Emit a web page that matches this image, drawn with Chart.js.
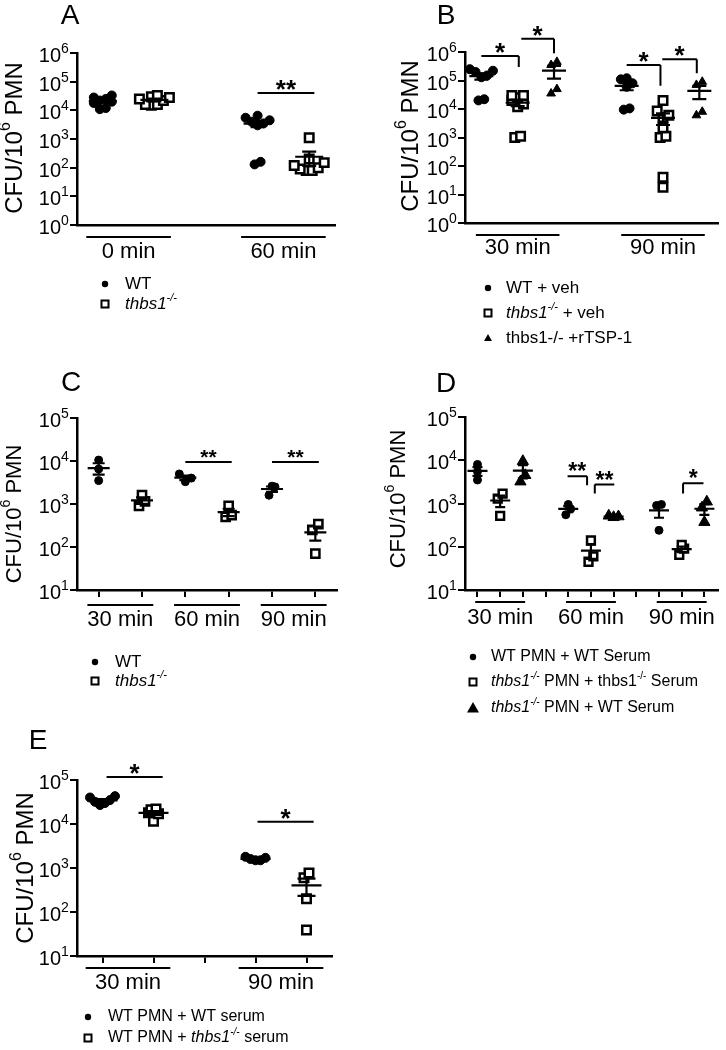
<!DOCTYPE html>
<html>
<head>
<meta charset="utf-8">
<script src="https://cdn.jsdelivr.net/npm/chart.js@4.4.0/dist/chart.umd.min.js"></script>
<style>
  body { margin: 0; background: #fff; width: 726px; height: 1050px; position: relative; overflow: hidden; }
  canvas { position: absolute; }
</style>
</head>
<body>
<canvas id="chartA"></canvas>
<canvas id="chartB"></canvas>
<canvas id="chartC"></canvas>
<canvas id="chartD"></canvas>
<canvas id="chartE"></canvas>
<script>
// ---------- datos (CFU / 10^6 PMN) ----------
// Panel A
const aGroups = ['0 min', '60 min'];
const aWT = [[22000, 18000, 25000, 12000, 11000, 33000, 20000, 28000], [6500, 5500, 4500, 4000, 3500, 3000, 130, 160]];
const aKO = [[33000, 30000, 28000, 25000, 16000, 15000, 16000, 22000], [1100, 200, 150, 100, 80, 80, 90, 120]];
const aSig = [[4.0, 5.1, 40000, '**']];
const aYTicks = [1, 10, 100, 1000, 10000, 100000, 1000000];

// Panel B
const bGroups = ['30 min', '90 min'];
const bWT = [[250000, 200000, 220000, 150000, 130000, 20000, 22000], [120000, 110000, 80000, 60000, 9500, 10500]];
const bKO = [[30000, 30000, 25000, 20000, 15000, 12000, 1000, 1100], [20000, 8500, 6000, 5000, 2200, 1100, 1000, 40, 18]];
const bTSP = [[450000, 350000, 50000, 35000], [90000, 70000, 8000, 6000]];
// [desde, hasta, y, texto, y final del tramo vertical, lado del tramo]
const bSig = [
    [1.0, 2.03, 720000, '*', 300000, 'right'],
    [2.1, 3.0, 2900000, '*', 910000, 'right'],
    [5.0, 5.93, 350000, '*', 66000, 'right'],
    [5.98, 6.93, 560000, '*', 180000, 'right']
];
const bYTicks = [1, 10, 100, 1000, 10000, 100000, 1000000];

// Panel C
const cGroups = ['30 min', '60 min', '90 min'];
const cWT = [[10500, 6500, 3500], [5000, 4000, 3300], [2600, 2500, 1600]];
const cKO = [[1600, 1150, 900], [900, 550, 500], [340, 250, 70]];
const cSig = [[3.0, 4.07, 9500, '**'], [5.0, 6.08, 9500, '**']];
const cYTicks = [10, 100, 1000, 10000, 100000];
const cXTicks = [1, 2, 3, 4, 5, 6];

// Panel D
const dGroups = ['30 min', '60 min', '90 min'];
const dWW = [[8000, 5500, 3500], [950, 750, 550], [950, 900, 240]];
const dKK = [[1700, 1300, 520], [140, 60, 45], [110, 90, 65]];
const dKW = [[9500, 4500, 3200], [520, 500, 480], [1100, 800, 370]];
const dSig = [
    [4.97, 5.83, 4270, '**', 2630, 'right'],
    [6.17, 7.03, 2750, '**', 1700, 'left'],
    [10.06, 10.96, 2950, '*', 1700, 'left']
];
const dYTicks = [10, 100, 1000, 10000, 100000];
const dXTicks = [1, 2, 3, 4, 5, 6, 7, 8, 9, 10, 11];

// Panel E
const eGroups = ['30 min', '90 min'];
const eWT = [[43000, 40000, 35000, 30000, 27000, 32000], [1800, 1700, 1600, 1500, 1500]];
const eKO = [[22000, 21000, 18000, 17000, 11500], [770, 600, 200, 39]];
const eSig = [[1.08, 2.18, 117000, '*'], [4.04, 5.14, 11200, '*']];
const eYTicks = [10, 100, 1000, 10000, 100000];
const eXTicks = [1, 2, 3, 4, 5];

// Leyendas: [texto, estilo] con 'i' = cursiva, 's' = superíndice
const legA = [[['WT']], [['thbs1', 'i'], ['-/-', 'is']]];
const legB = [[['WT + veh']], [['thbs1', 'i'], ['-/-', 'is'], [' + veh']], [['thbs1-/- +rTSP-1']]];
const legC = [[['WT']], [['thbs1', 'i'], ['-/-', 'is']]];
const legD = [
    [['WT PMN + WT Serum']],
    [['thbs1', 'i'], ['-/-', 'is'], [' PMN + thbs1'], ['-/-', 's'], [' Serum']],
    [['thbs1', 'i'], ['-/-', 'is'], [' PMN + WT Serum']]
];
const legE = [[['WT PMN + WT serum']], [['WT PMN + '], ['thbs1', 'i'], ['-/-', 'is'], [' serum']]];

const FONT = '"Liberation Sans", Arial, Helvetica, sans-serif';

// ---------- configuración de cada panel ----------
const panels = [
    {
        id: 'chartA', box: [0, 0, 363, 330], area: [77, 53, 335, 225],
        xMin: 0.5, xMax: 5.5, gap: 1, groups: aGroups, yMin: 1, yMax: 1e6, yTicks: aYTicks, xTicks: null,
        series: [{ values: aWT, marker: 'circle', r: 4.5 }, { values: aKO, marker: 'rect', r: 6 }],
        thr: 0.3, jitter: 6, meanHalf: 14, capHalf: 7, sig: aSig, starSize: 26,
        groupLineY: 237, groupLabelY: 252, groupHalf: 0.82,
        letter: ['A', 70, 16], title: [15, 138, 24],
        legend: { x: 105, tx: 125, rows: [284, 304], size: 17, labels: legA, family: FONT }
    },
    {
        id: 'chartB', box: [363, 0, 363, 345], area: [465, 52, 726, 223],
        xMin: 0.55, xMax: 7.5, gap: 1, groups: bGroups, yMin: 1, yMax: 1e6, yTicks: bYTicks, xTicks: null,
        series: [{ values: bWT, marker: 'circle', r: 4.5 }, { values: bKO, marker: 'rect', r: 6 }, { values: bTSP, marker: 'triangle', r: 5 }],
        thr: 0.3, jitter: 6, meanHalf: 12, capHalf: 7, sig: bSig, starSize: 26,
        groupLineY: 235, groupLabelY: 248, groupHalf: 1.15,
        letter: ['B', 446, 16], title: [411, 136, 24],
        legend: { x: 488, tx: 506, rows: [288, 313, 338], size: 17, labels: legB, family: FONT }
    },
    {
        id: 'chartC', box: [0, 330, 363, 370], area: [77, 418, 337, 590],
        xMin: 0.5, xMax: 6.5, gap: 0, groups: cGroups, yMin: 10, yMax: 1e5, yTicks: cYTicks, xTicks: cXTicks,
        series: [{ values: cWT, marker: 'circle', r: 4 }, { values: cKO, marker: 'rect', r: 5.8 }],
        thr: 0.2, jitter: 6, meanHalf: 11, capHalf: 6, sig: cSig, starSize: 21,
        groupLineY: 605, groupLabelY: 620, groupHalf: 0.76,
        letter: ['C', 71, 383], title: [15, 514, 22],
        legend: { x: 95, tx: 115, rows: [662, 681], size: 17, labels: legC, family: FONT }
    },
    {
        id: 'chartD', box: [363, 345, 363, 375], area: [465, 417, 726, 590],
        xMin: 0.45, xMax: 11.6, gap: 1, groups: dGroups, yMin: 10, yMax: 1e5, yTicks: dYTicks, xTicks: dXTicks,
        series: [{ values: dWW, marker: 'circle', r: 4 }, { values: dKK, marker: 'rect', r: 5.5 }, { values: dKW, marker: 'triangle', r: 6.5 }],
        thr: 0.15, jitter: 5, meanHalf: 10, capHalf: 5, sig: dSig, starSize: 23,
        groupLineY: 602, groupLabelY: 618, groupHalf: 1.1,
        letter: ['D', 446, 384], title: [399, 499, 22],
        legend: { x: 473, tx: 491, rows: [657, 682, 708], size: 16, labels: legD, family: FONT }
    },
    {
        id: 'chartE', box: [0, 700, 363, 350], area: [77, 780, 332, 956],
        xMin: 0.5, xMax: 5.5, gap: 1, groups: eGroups, yMin: 10, yMax: 1e5, yTicks: eYTicks, xTicks: eXTicks,
        series: [{ values: eWT, marker: 'circle', r: 4.5 }, { values: eKO, marker: 'rect', r: 6 }],
        thr: 0.25, jitter: 5, meanHalf: 15, capHalf: 9, sig: eSig, starSize: 26,
        groupLineY: 968, groupLabelY: 983, groupHalf: 0.83,
        letter: ['E', 38, 741], title: [26, 868, 24],
        legend: { x: 88, tx: 108, rows: [1017, 1038], size: 16, labels: legE, family: '"Liberation Sans Narrow", ' + FONT }
    }
];

// ---------- utilidades ----------
function posOf(p, g, s) {
    return g * (p.series.length + p.gap) + s + 1;
}

// reparte horizontalmente los puntos con valores parecidos (tipo "scatter dot plot")
function spread(vals, center, thr, dx) {
    const idx = vals.map((v, i) => i).sort((a, b) => vals[a] - vals[b]);
    const out = [];
    let cluster = [];
    const flush = () => {
        const offs = cluster.map((k, j) => (j % 2 ? 1 : -1) * Math.ceil(j / 2));
        const shift = offs.reduce((a, b) => a + b, 0) / offs.length;
        cluster.forEach((k, j) => out.push({ x: center + (offs[j] - shift) * dx, y: vals[k] }));
        cluster = [];
    };
    idx.forEach(k => {
        if (cluster.length && Math.log10(vals[k]) - Math.log10(vals[cluster[0]]) > thr) flush();
        cluster.push(k);
    });
    flush();
    return out;
}

function meanSem(vals) {
    const n = vals.length;
    const m = vals.reduce((a, b) => a + b, 0) / n;
    const sd = Math.sqrt(vals.reduce((a, b) => a + (b - m) * (b - m), 0) / (n - 1));
    return [m, sd / Math.sqrt(n)];
}

function drawRuns(ctx, runs, x, y, size, family, measureOnly) {
    let cx = x;
    runs.forEach(([t, style]) => {
        const it = style && style.includes('i');
        const sup = style && style.includes('s');
        const fs = sup ? Math.round(size * 0.65) : size;
        ctx.font = (it ? 'italic ' : '') + fs + 'px ' + family;
        if (!measureOnly) ctx.fillText(t, cx, sup ? y - size * 0.38 : y);
        cx += ctx.measureText(t).width;
    });
    return cx - x;
}

function drawMarker(ctx, type, x, y, r) {
    ctx.beginPath();
    ctx.lineWidth = 2;
    ctx.strokeStyle = '#000';
    if (type === 'circle') {
        ctx.arc(x, y, r, 0, Math.PI * 2);
        ctx.fillStyle = '#000';
        ctx.fill();
    } else if (type === 'rect') {
        ctx.rect(x - r, y - r, 2 * r, 2 * r);
        ctx.fillStyle = '#fff';
        ctx.fill();
        ctx.stroke();
    } else {
        ctx.moveTo(x, y - r);
        ctx.lineTo(x + r, y + r * 0.75);
        ctx.lineTo(x - r, y + r * 0.75);
        ctx.closePath();
        ctx.fillStyle = '#000';
        ctx.fill();
    }
}

// ---------- construcción ----------
panels.forEach(p => {
    const canvas = document.getElementById(p.id);
    const [bx, by, bw, bh] = p.box;
    canvas.width = bw;
    canvas.height = bh;
    canvas.style.left = bx + 'px';
    canvas.style.top = by + 'px';

    const unit = (p.area[2] - p.area[0]) / (p.xMax - p.xMin);
    const datasets = p.series.map((s, si) => {
        const open = s.marker === 'rect';
        return {
            data: s.values.flatMap((vals, g) => spread(vals, posOf(p, g, si), p.thr, p.jitter / unit)),
            pointStyle: s.marker,
            pointRadius: s.r,
            pointHoverRadius: s.r,
            backgroundColor: open ? '#fff' : '#000',
            borderColor: '#000',
            borderWidth: open ? 2.5 : 1,
            showLine: false,
            clip: false
        };
    });

    const decor = {
        id: 'decor' + p.id,
        afterDatasetsDraw(chart) {
            const ctx = chart.ctx;
            const xs = chart.scales.x, ys = chart.scales.y;
            ctx.save();
            ctx.strokeStyle = '#000';

            // media ± EEM
            ctx.lineWidth = 2.2;
            p.series.forEach((s, si) => {
                s.values.forEach((vals, g) => {
                    const [m, sem] = meanSem(vals);
                    const cx = xs.getPixelForValue(posOf(p, g, si));
                    const ym = ys.getPixelForValue(m);
                    const yHi = ys.getPixelForValue(m + sem);
                    const yLo = ys.getPixelForValue(Math.max(m - sem, p.yMin * 0.5));
                    ctx.beginPath();
                    ctx.moveTo(cx - p.meanHalf, ym); ctx.lineTo(cx + p.meanHalf, ym);
                    ctx.moveTo(cx, yHi); ctx.lineTo(cx, yLo);
                    ctx.moveTo(cx - p.capHalf, yHi); ctx.lineTo(cx + p.capHalf, yHi);
                    ctx.moveTo(cx - p.capHalf, yLo); ctx.lineTo(cx + p.capHalf, yLo);
                    ctx.stroke();
                });
            });
            ctx.restore();
        },
        afterDraw(chart) {
            const ctx = chart.ctx;
            const xs = chart.scales.x, ys = chart.scales.y;
            const ox = bx, oy = by;
            const axisX = p.area[0] - ox;
            ctx.save();
            ctx.fillStyle = '#000';
            ctx.strokeStyle = '#000';

            // etiquetas del eje y: 10^n
            p.yTicks.forEach(v => {
                const y = ys.getPixelForValue(v);
                ctx.textBaseline = 'alphabetic';
                ctx.textAlign = 'right';
                ctx.font = '20px ' + FONT;
                ctx.fillText('10', axisX - 16, y + 9);
                ctx.textAlign = 'left';
                ctx.font = '14px ' + FONT;
                ctx.fillText(String(Math.round(Math.log10(v))), axisX - 16, y + 0);
            });

            // grupos de tiempo
            ctx.lineWidth = 2;
            p.groups.forEach((label, g) => {
                const c = (posOf(p, g, 0) + posOf(p, g, p.series.length - 1)) / 2;
                const x1 = xs.getPixelForValue(c - p.groupHalf);
                const x2 = xs.getPixelForValue(c + p.groupHalf);
                ctx.beginPath();
                ctx.moveTo(x1, p.groupLineY - oy); ctx.lineTo(x2, p.groupLineY - oy);
                ctx.stroke();
                ctx.font = '22px ' + FONT;
                ctx.textAlign = 'center';
                ctx.textBaseline = 'middle';
                ctx.fillText(label, xs.getPixelForValue(c), p.groupLabelY - oy);
            });

            // significancia
            p.sig.forEach(([a, b, yv, txt, legY, side]) => {
                const x1 = xs.getPixelForValue(a), x2 = xs.getPixelForValue(b);
                const y = ys.getPixelForValue(yv);
                ctx.lineWidth = 2;
                ctx.beginPath();
                ctx.moveTo(x1, y); ctx.lineTo(x2, y);
                if (legY) {
                    const lx = side === 'right' ? x2 : x1;
                    ctx.moveTo(lx, y); ctx.lineTo(lx, ys.getPixelForValue(legY));
                }
                ctx.stroke();
                ctx.font = 'bold ' + p.starSize + 'px ' + FONT;
                ctx.textAlign = 'center';
                ctx.textBaseline = 'alphabetic';
                ctx.fillText(txt, (x1 + x2) / 2, y - 10 + 0.57 * p.starSize);
            });

            // letra del panel
            ctx.font = '28px ' + FONT;
            ctx.textAlign = 'center';
            ctx.textBaseline = 'middle';
            ctx.fillText(p.letter[0], p.letter[1] - ox, p.letter[2] - oy);

            // título del eje y
            const [tx, ty, ts] = p.title;
            const runs = [['CFU/10'], ['6', 's'], [' PMN']];
            ctx.save();
            ctx.translate(tx - ox, ty - oy);
            ctx.rotate(-Math.PI / 2);
            ctx.textAlign = 'left';
            ctx.textBaseline = 'middle';
            const w = drawRuns(ctx, runs, 0, 0, ts, FONT, true);
            drawRuns(ctx, runs, -w / 2, 0, ts, FONT);
            ctx.restore();

            // leyenda
            const L = p.legend;
            L.labels.forEach((runsL, i) => {
                const y = L.rows[i] - oy;
                const type = p.series[i].marker;
                const mr = type === 'circle' ? 3.2 : (type === 'rect' ? 3.5 : (p.id === 'chartD' ? 6 : 4));
                drawMarker(ctx, type, L.x - ox, y, mr);
                ctx.fillStyle = '#000';
                ctx.textAlign = 'left';
                ctx.textBaseline = 'middle';
                drawRuns(ctx, runsL, L.tx - ox, y, L.size, L.family);
            });
            ctx.restore();
        }
    };

    new Chart(canvas, {
        type: 'scatter',
        data: { datasets },
        options: {
            responsive: false,
            animation: false,
            devicePixelRatio: 1,
            layout: {
                padding: {
                    left: p.area[0] - bx,
                    top: p.area[1] - by,
                    right: bx + bw - p.area[2],
                    bottom: by + bh - p.area[3]
                }
            },
            plugins: { legend: { display: false }, tooltip: { enabled: false } },
            scales: {
                x: {
                    type: 'linear', min: p.xMin, max: p.xMax,
                    afterBuildTicks: sc => { sc.ticks = (p.xTicks || []).map(v => ({ value: v })); },
                    afterFit: sc => { sc.height = 0; },
                    ticks: { display: false },
                    grid: { display: !!p.xTicks, drawOnChartArea: false, drawTicks: true, tickLength: 7, lineWidth: 2, color: '#000' },
                    border: { display: true, width: 2.5, color: '#000' }
                },
                y: {
                    type: 'logarithmic', min: p.yMin, max: p.yMax,
                    afterBuildTicks: sc => { sc.ticks = p.yTicks.map(v => ({ value: v })); },
                    afterFit: sc => { sc.width = 0; },
                    ticks: { display: false },
                    grid: { display: true, drawOnChartArea: false, drawTicks: true, tickLength: 7, lineWidth: 2, color: '#000' },
                    border: { display: true, width: 2.5, color: '#000' }
                }
            }
        },
        plugins: [decor]
    });
});
</script>
</body>
</html>
